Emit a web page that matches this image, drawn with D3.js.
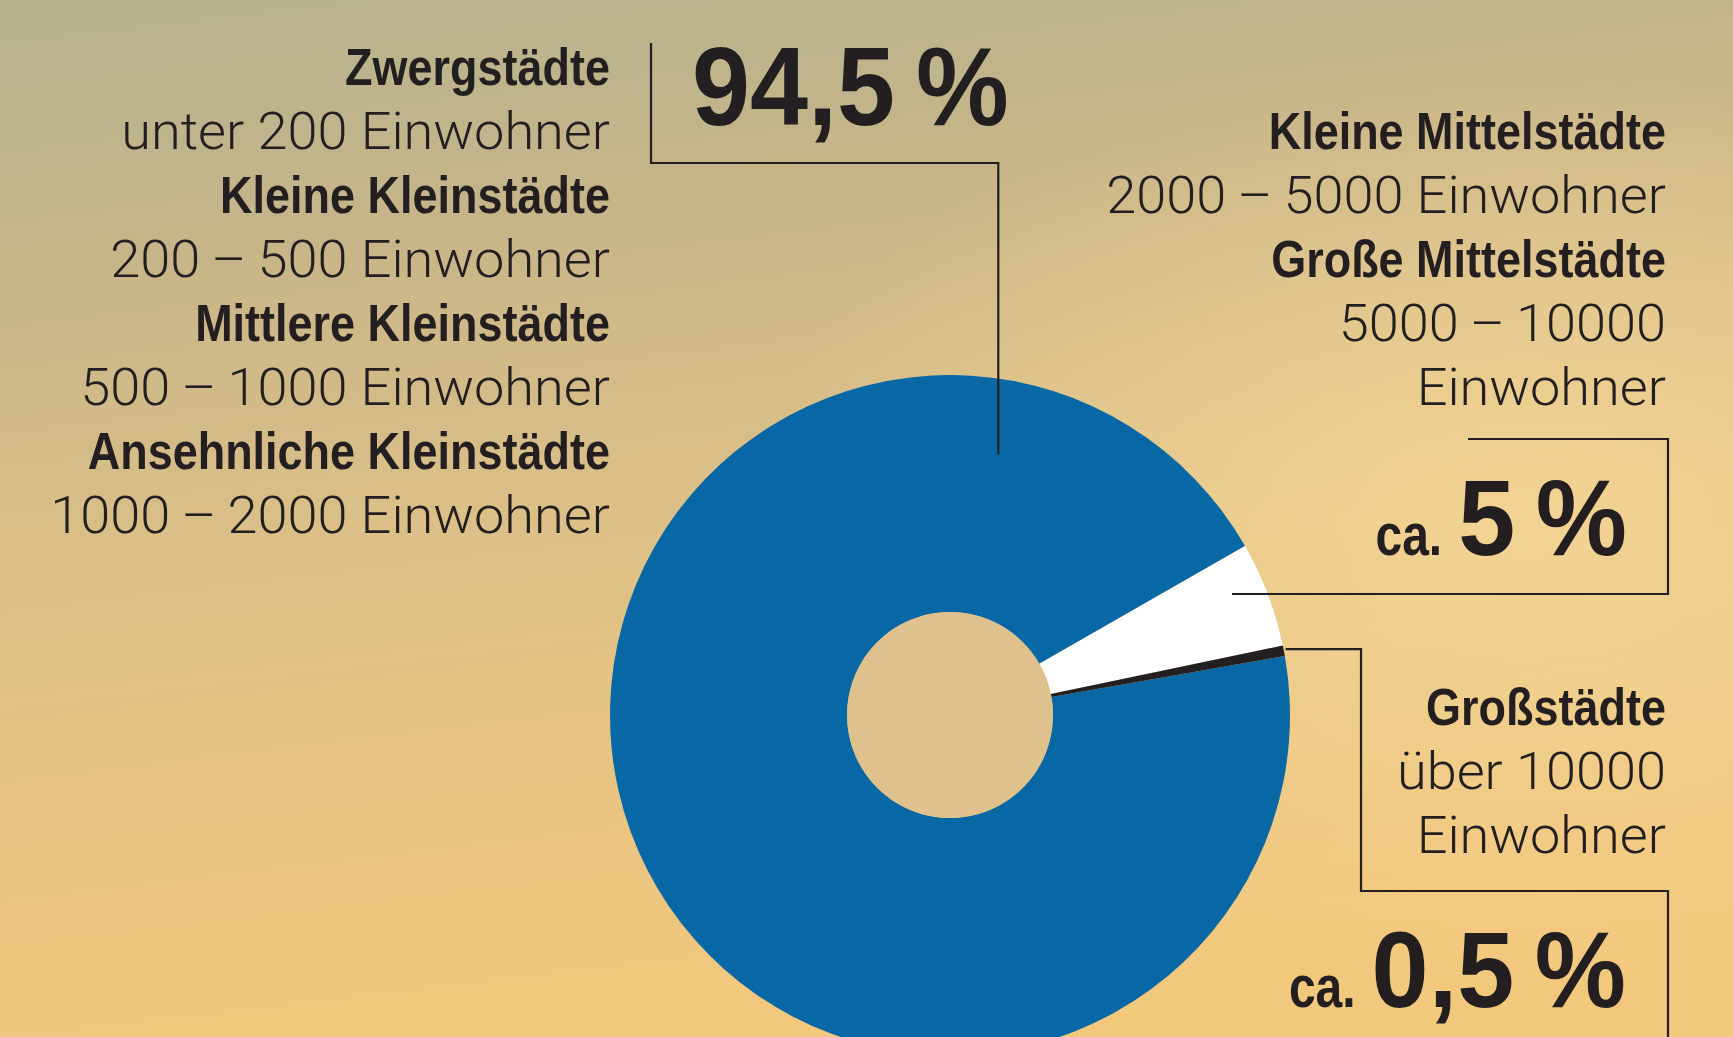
<!DOCTYPE html>
<html>
<head>
<meta charset="utf-8">
<script src="https://cdn.jsdelivr.net/npm/d3@7"></script>
<style>
  body { margin: 0; overflow: hidden; }
  svg { display: block; }
</style>
</head>
<body>
<div id="chart"></div>
<script>
var width = 1733, height = 1037;

// data
var groups = ["Zwerg- bis Kleinstädte", "Mittelstädte", "Großstädte"];
var shares = [94.5, 5, 0.5];
var shareLabels = ["94,5\u2009%", "5\u2009%", "0,5\u2009%"];
var sliceColors = ["#0868a5", "#ffffff", "#231f20"];

var smallTownLines = [
    ["Zwergstädte", "unter 200 Einwohner"],
    ["Kleine Kleinstädte", "200\u2009–\u2009500 Einwohner"],
    ["Mittlere Kleinstädte", "500\u2009–\u20091000 Einwohner"],
    ["Ansehnliche Kleinstädte", "1000\u2009–\u20092000 Einwohner"]
];
var midTownLines = [
    ["Kleine Mittelstädte", "2000\u2009–\u20095000 Einwohner"],
    ["Große Mittelstädte", "5000\u2009–\u200910000", "Einwohner"]
];
var bigTownLines = [
    ["Großstädte", "über 10000", "Einwohner"]
];

var ink = "#231f20";
var cx = 950, cy = 715, outerR = 340, innerR = 103;
var lineGap = 64;
var boldFont = "'Liberation Sans', Arial, sans-serif";
var lightFont = "Roboto, 'Liberation Sans', sans-serif";

var svg = d3.select("#chart")
    .append("svg")
    .attr("width", width)
    .attr("height", height);

// background wash
var defs = svg.append("defs");
var bg = defs.append("linearGradient").attr("id", "bg")
    .attr("x1", "0").attr("y1", "0").attr("x2", "0.2").attr("y2", "1");
bg.append("stop").attr("offset", "0").attr("stop-color", "#b5b38f");
bg.append("stop").attr("offset", "0.25").attr("stop-color", "#c6b589");
bg.append("stop").attr("offset", "0.55").attr("stop-color", "#ddc087");
bg.append("stop").attr("offset", "1").attr("stop-color", "#f2c87d");
var glow = defs.append("radialGradient").attr("id", "glow")
    .attr("cx", "0.88").attr("cy", "0.5").attr("r", "0.45");
glow.append("stop").attr("offset", "0").attr("stop-color", "#f7d898").attr("stop-opacity", 0.8);
glow.append("stop").attr("offset", "1").attr("stop-color", "#f7d898").attr("stop-opacity", 0);

svg.append("rect").attr("width", width).attr("height", height).attr("fill", "url(#bg)");
svg.append("rect").attr("width", width).attr("height", height).attr("fill", "url(#glow)");

// donut
var pie = d3.pie()
    .sort(null)
    .startAngle(80 * Math.PI / 180)
    .endAngle(80 * Math.PI / 180 + 2 * Math.PI);

var arc = d3.arc()
    .innerRadius(innerR)
    .outerRadius(outerR);

var slices = pie(shares);

svg.append("g")
    .attr("transform", "translate(" + cx + "," + cy + ")")
    .selectAll("path")
    .data(slices)
    .enter().append("path")
    .attr("d", arc)
    .attr("fill", function (d, i) { return sliceColors[i]; });

// hole tint
svg.append("circle")
    .attr("cx", cx).attr("cy", cy).attr("r", innerR)
    .attr("fill", "#dcbf90").attr("opacity", 0.8);

// callout lines
function pointAt(angleDeg, r) {
    var a = angleDeg * Math.PI / 180;
    return [cx + r * Math.sin(a), cy - r * Math.cos(a)];
}
var blueAnchor = pointAt(10.5, 265);
var whiteY = 594;
var blackAnchor = pointAt(slices[2].startAngle * 180 / Math.PI + 0.7, outerR + 2);

var callouts = [
    [[651, 43], [651, 163], [blueAnchor[0], 163], blueAnchor],
    [[1232, whiteY], [1668, whiteY], [1668, 439], [1468, 439]],
    [[blackAnchor[0], blackAnchor[1]], [1361, blackAnchor[1]], [1361, 891], [1668, 891], [1668, 1040]]
];

svg.append("g")
    .selectAll("path")
    .data(callouts)
    .enter().append("path")
    .attr("d", d3.line())
    .attr("fill", "none")
    .attr("stroke", ink)
    .attr("stroke-width", 2.2);

// squeezed text helper (condensed look)
function squeezed(x, y, sx, anchor) {
    return svg.append("text")
        .attr("transform", "translate(" + x + "," + y + ") scale(" + sx + ",1)")
        .attr("text-anchor", anchor)
        .attr("fill", ink);
}

// label blocks
function drawBlock(lines, x, y0) {
    var k = 0;
    lines.forEach(function (item) {
        item.forEach(function (txt, j) {
            squeezed(x, y0 + k * lineGap, j === 0 ? 0.865 : 1.04, "end")
                .style("font-family", j === 0 ? boldFont : lightFont)
                .style("font-weight", j === 0 ? 700 : 300)
                .style("font-size", "52px")
                .text(txt);
            k++;
        });
    });
}

drawBlock(smallTownLines, 610, 85);
drawBlock(midTownLines, 1666, 149);
drawBlock(bigTownLines, 1666, 725);

// share figures
squeezed(692, 125, 0.94, "start")
    .style("font-family", boldFont)
    .style("font-weight", 700)
    .style("font-size", "111px")
    .text(shareLabels[0]);

function caLabel(txt, x, y) {
    var num = squeezed(x, y, 0.95, "end")
        .style("font-family", boldFont)
        .style("font-weight", 700)
        .style("font-size", "108px")
        .text(txt);
    var numW = num.node().getComputedTextLength() * 0.95;
    squeezed(x - numW - 16, y, 0.8, "end")
        .style("font-family", boldFont)
        .style("font-weight", 700)
        .style("font-size", "60px")
        .text("ca.");
}
caLabel(shareLabels[1], 1627, 555);
caLabel(shareLabels[2], 1626, 1007);
</script>
</body>
</html>
